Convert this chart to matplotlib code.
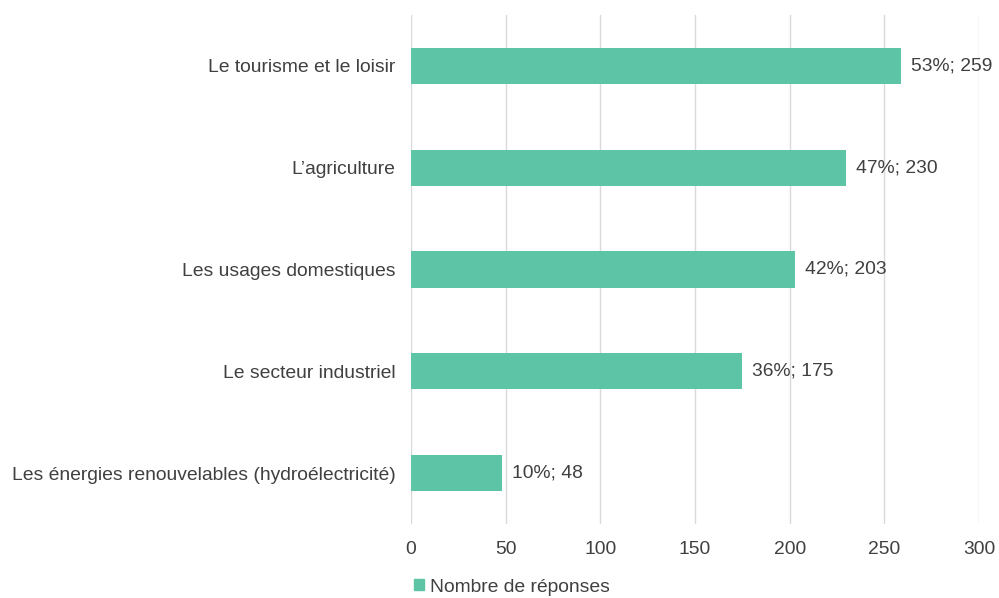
import matplotlib
matplotlib.use("Agg")
import matplotlib.pyplot as plt
from matplotlib.patches import Patch

categories = ["Le tourisme et le loisir", "L\u2019agriculture", "Les usages domestiques",
              "Le secteur industriel", "Les énergies renouvelables (hydroélectricité)"]
values = [259, 230, 203, 175, 48]
percents = ["53%", "47%", "42%", "36%", "10%"]
xticks = [0, 50, 100, 150, 200, 250, 300]
series_name = "Nombre de réponses"

plt.rcParams['font.family'] = ['Liberation Sans', 'DejaVu Sans']
color = "#5EC4A6"
textc = "#404040"
fs = 13.9

fig = plt.figure(figsize=(9.99, 5.98), dpi=100)
ax = fig.add_axes([411/999, 1-524/598, 568/999, 509/598])
y = list(range(len(categories)))
ax.barh(y, values, height=0.355, color=color, zorder=3)
ax.set_ylim(4.5, -0.5)
ax.set_xlim(0, 300)
ax.set_xticks(xticks)
ax.set_yticks(y)
ax.set_yticklabels(categories)
ax.tick_params(axis='y', length=0, pad=11, labelsize=fs, labelcolor=textc)
ax.tick_params(axis='x', length=0, pad=12, labelsize=fs, labelcolor=textc)
ax.grid(axis='x', color='#D9D9D9', linewidth=1.0, zorder=0)
for s in ax.spines.values():
    s.set_visible(False)
for yi, v, p in zip(y, values, percents):
    ax.annotate(f"{p}; {v}", (v, yi), xytext=(10, 0), textcoords='offset pixels',
                va='center', ha='left', fontsize=fs, color=textc)
leg = fig.legend(handles=[Patch(color=color, label=series_name)], loc='center',
                 bbox_to_anchor=(512/999, 1-587/598), frameon=False, fontsize=fs,
                 handlelength=0.55, handleheight=0.55, handletextpad=0.3)
for t in leg.get_texts():
    t.set_color(textc)
fig.savefig("out.png", dpi=100)
